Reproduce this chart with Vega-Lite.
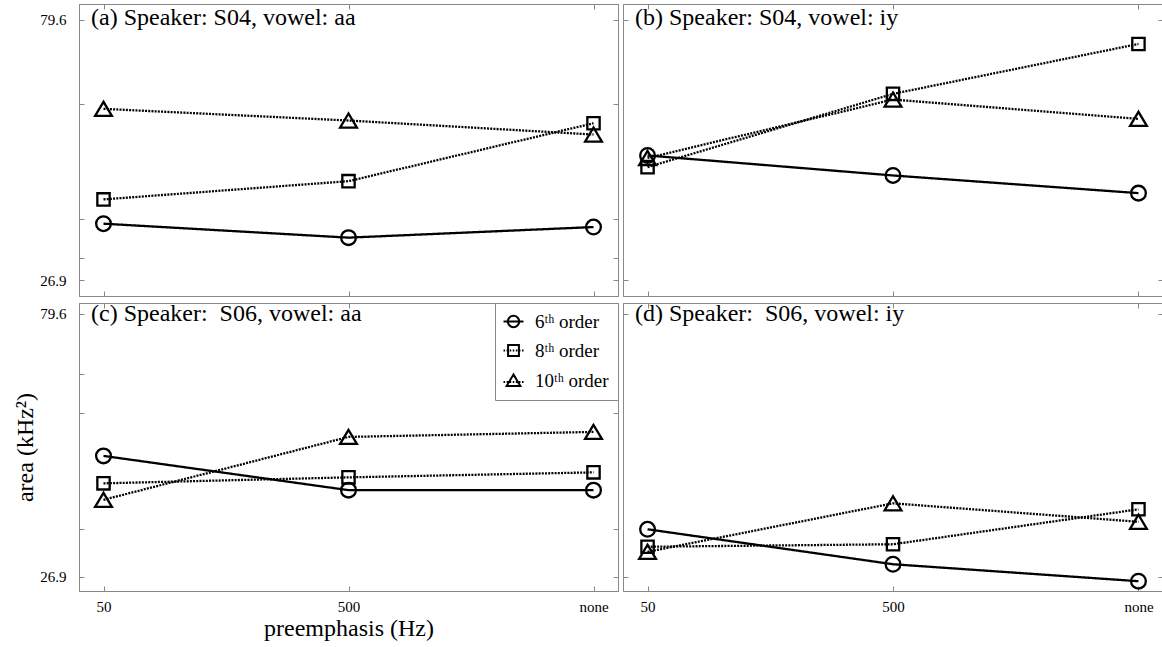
{
  "$schema": "https://vega.github.io/schema/vega-lite/v6.json",
  "padding": {"left": 13, "top": 3, "right": 0, "bottom": 0},
  "background": "white",
  "datasets": {
    "d": [
      {"panel": "a", "pre": "50", "order": "6ᵗʰ order", "area": 38.35},
      {"panel": "a", "pre": "500", "order": "6ᵗʰ order", "area": 35.53},
      {"panel": "a", "pre": "none", "order": "6ᵗʰ order", "area": 37.67},
      {"panel": "a", "pre": "50", "order": "8ᵗʰ order", "area": 43.26},
      {"panel": "a", "pre": "500", "order": "8ᵗʰ order", "area": 46.95},
      {"panel": "a", "pre": "none", "order": "8ᵗʰ order", "area": 58.66},
      {"panel": "a", "pre": "50", "order": "10ᵗʰ order", "area": 61.57},
      {"panel": "a", "pre": "500", "order": "10ᵗʰ order", "area": 59.21},
      {"panel": "a", "pre": "none", "order": "10ᵗʰ order", "area": 56.38},
      {"panel": "b", "pre": "50", "order": "6ᵗʰ order", "area": 52.14},
      {"panel": "b", "pre": "500", "order": "6ᵗʰ order", "area": 48.1},
      {"panel": "b", "pre": "none", "order": "6ᵗʰ order", "area": 44.53},
      {"panel": "b", "pre": "50", "order": "8ᵗʰ order", "area": 49.78},
      {"panel": "b", "pre": "500", "order": "8ᵗʰ order", "area": 64.6},
      {"panel": "b", "pre": "none", "order": "8ᵗʰ order", "area": 74.69},
      {"panel": "b", "pre": "50", "order": "10ᵗʰ order", "area": 51.64},
      {"panel": "b", "pre": "500", "order": "10ᵗʰ order", "area": 63.45},
      {"panel": "b", "pre": "none", "order": "10ᵗʰ order", "area": 59.55},
      {"panel": "c", "pre": "50", "order": "6ᵗʰ order", "area": 51.1},
      {"panel": "c", "pre": "500", "order": "6ᵗʰ order", "area": 44.24},
      {"panel": "c", "pre": "none", "order": "6ᵗʰ order", "area": 44.24},
      {"panel": "c", "pre": "50", "order": "8ᵗʰ order", "area": 45.6},
      {"panel": "c", "pre": "500", "order": "8ᵗʰ order", "area": 46.8},
      {"panel": "c", "pre": "none", "order": "8ᵗʰ order", "area": 47.8},
      {"panel": "c", "pre": "50", "order": "10ᵗʰ order", "area": 42.3},
      {"panel": "c", "pre": "500", "order": "10ᵗʰ order", "area": 54.9},
      {"panel": "c", "pre": "none", "order": "10ᵗʰ order", "area": 55.9},
      {"panel": "d", "pre": "50", "order": "6ᵗʰ order", "area": 36.4},
      {"panel": "d", "pre": "500", "order": "6ᵗʰ order", "area": 29.4},
      {"panel": "d", "pre": "none", "order": "6ᵗʰ order", "area": 26.0},
      {"panel": "d", "pre": "50", "order": "8ᵗʰ order", "area": 32.9},
      {"panel": "d", "pre": "500", "order": "8ᵗʰ order", "area": 33.4},
      {"panel": "d", "pre": "none", "order": "8ᵗʰ order", "area": 40.4},
      {"panel": "d", "pre": "50", "order": "10ᵗʰ order", "area": 31.9},
      {"panel": "d", "pre": "500", "order": "10ᵗʰ order", "area": 41.6},
      {"panel": "d", "pre": "none", "order": "10ᵗʰ order", "area": 37.9}
    ]
  },
  "columns": 2,
  "spacing": {"row": 4, "column": 3},
  "resolve": {"scale": {"shape": "independent", "strokeDash": "independent"}, "legend": {"shape": "independent", "strokeDash": "independent"}},
  "concat": [
    {
      "data": {"name": "d"},
      "transform": [{"filter": "datum.panel == 'a'"}],
      "width": 539, "height": 292,
      "title": {"text": "(a) Speaker: S04, vowel: aa", "offset": -26},
      "layer": [
        {
          "mark": {"type": "line", "color": "black", "strokeWidth": 2.3},
          "encoding": {
            "x": {"field": "pre", "type": "nominal", "scale": {"type": "point", "padding": 0.1, "domain": ["50", "500", "none"]}, "axis": {"orient": "bottom", "labels": false, "title": null}},
            "y": {"field": "area", "type": "quantitative", "scale": {"domain": [23.73, 82.77], "nice": false, "zero": false}, "axis": {"orient": "left", "values": [26.9, 31.4, 39.22, 62.58, 79.6], "labelExpr": "datum.value == 79.6 || datum.value == 26.9 ? format(datum.value, '.1f') : ''", "title": null}},
            "strokeDash": {"field": "order", "type": "nominal", "scale": {"domain": ["10ᵗʰ order", "8ᵗʰ order", "6ᵗʰ order"], "range": [[2, 1.2], [2, 1.2], [1, 0]]}, "legend": null}
          }
        },
        {
          "mark": {"type": "point", "color": "black", "filled": false, "strokeWidth": 2.3, "size": 256, "opacity": 1},
          "encoding": {
            "x": {"field": "pre", "type": "nominal", "axis": {"orient": "top", "labels": false, "title": null}},
            "y": {"field": "area", "type": "quantitative", "axis": {"orient": "right", "values": [26.9, 31.4, 39.22, 62.58, 79.6], "labels": false, "title": null}},
            "shape": {"field": "order", "type": "nominal", "scale": {"domain": ["6ᵗʰ order", "8ᵗʰ order", "10ᵗʰ order"], "range": ["M0.92,0A0.92,0.92,0,1,1,-0.92,0A0.92,0.92,0,1,1,0.92,0Z", "M-0.77,-0.77H0.77V0.77H-0.77Z", "M0,-0.88L-1.05,0.88H1.05Z"]}, "legend": null}
          }
        }
      ]
    },
    {
      "data": {"name": "d"},
      "transform": [{"filter": "datum.panel == 'b'"}],
      "width": 540, "height": 292,
      "title": {"text": "(b) Speaker: S04, vowel: iy", "offset": -26},
      "layer": [
        {
          "mark": {"type": "line", "color": "black", "strokeWidth": 2.3},
          "encoding": {
            "x": {"field": "pre", "type": "nominal", "scale": {"type": "point", "padding": 0.1, "domain": ["50", "500", "none"]}, "axis": {"orient": "bottom", "labels": false, "title": null}},
            "y": {"field": "area", "type": "quantitative", "scale": {"domain": [23.73, 82.77], "nice": false, "zero": false}, "axis": {"orient": "left", "values": [26.9, 79.6], "labels": false, "title": null}},
            "strokeDash": {"field": "order", "type": "nominal", "scale": {"domain": ["10ᵗʰ order", "8ᵗʰ order", "6ᵗʰ order"], "range": [[2, 1.2], [2, 1.2], [1, 0]]}, "legend": null}
          }
        },
        {
          "mark": {"type": "point", "color": "black", "filled": false, "strokeWidth": 2.3, "size": 256, "opacity": 1},
          "encoding": {
            "x": {"field": "pre", "type": "nominal", "axis": {"orient": "top", "labels": false, "title": null}},
            "y": {"field": "area", "type": "quantitative", "axis": {"orient": "right", "values": [26.9, 79.6], "labels": false, "title": null}},
            "shape": {"field": "order", "type": "nominal", "scale": {"domain": ["6ᵗʰ order", "8ᵗʰ order", "10ᵗʰ order"], "range": ["M0.92,0A0.92,0.92,0,1,1,-0.92,0A0.92,0.92,0,1,1,0.92,0Z", "M-0.77,-0.77H0.77V0.77H-0.77Z", "M0,-0.88L-1.05,0.88H1.05Z"]}, "legend": null}
          }
        }
      ]
    },
    {
      "data": {"name": "d"},
      "transform": [{"filter": "datum.panel == 'c'"}],
      "width": 539, "height": 288,
      "title": {"text": "(c) Speaker:\u00a0 S06, vowel: aa", "offset": -23},
      "resolve": {"scale": {"shape": "independent"}, "legend": {"shape": "independent"}},
      "layer": [
        {
          "mark": {"type": "line", "color": "black", "strokeWidth": 2.3},
          "encoding": {
            "x": {"field": "pre", "type": "nominal", "scale": {"type": "point", "padding": 0.1, "domain": ["50", "500", "none"]}, "axis": {"orient": "bottom", "title": "preemphasis (Hz)"}},
            "y": {"field": "area", "type": "quantitative", "scale": {"domain": [24.04, 81.72], "nice": false, "zero": false}, "axis": {"orient": "left", "values": [26.9, 36.4, 59.6, 67.45, 79.6], "labelExpr": "datum.value == 79.6 || datum.value == 26.9 ? format(datum.value, '.1f') : ''", "title": "area (kHz²)"}},
            "strokeDash": {"field": "order", "type": "nominal", "scale": {"domain": ["10ᵗʰ order", "8ᵗʰ order", "6ᵗʰ order"], "range": [[2, 1.2], [2, 1.2], [1, 0]]}, "legend": null}
          }
        },
        {
          "mark": {"type": "point", "color": "black", "filled": false, "strokeWidth": 2.3, "size": 256, "opacity": 1},
          "encoding": {
            "x": {"field": "pre", "type": "nominal", "axis": {"orient": "top", "labels": false, "title": null}},
            "y": {"field": "area", "type": "quantitative", "axis": {"orient": "right", "values": [26.9, 36.4, 59.6, 67.45, 79.6], "labels": false, "title": null}},
            "shape": {"field": "order", "type": "nominal", "scale": {"domain": ["10ᵗʰ order", "8ᵗʰ order", "6ᵗʰ order"], "range": ["M0,-0.88L-1.05,0.88H1.05Z", "M-0.77,-0.77H0.77V0.77H-0.77Z", "M0.92,0A0.92,0.92,0,1,1,-0.92,0A0.92,0.92,0,1,1,0.92,0Z"]}, "legend": null}
          }
        },
        {
          "mark": {"type": "point", "color": "black", "filled": false, "strokeWidth": 2, "opacity": 0},
          "encoding": {
            "x": {"field": "pre", "type": "nominal", "axis": null},
            "y": {"field": "area", "type": "quantitative", "axis": null},
            "shape": {"field": "order", "type": "nominal", "scale": {"domain": ["6ᵗʰ order", "8ᵗʰ order", "10ᵗʰ order"], "range": ["M-1.75,0L1.75,0M1,0A1,1,0,1,1,-1,0A1,1,0,1,1,1,0Z", "M-1.75,0h0.27M-1.21,0h0.27M-0.67,0h0.27M-0.13,0h0.27M0.41,0h0.27M0.95,0h0.27M1.49,0h0.27M-0.95,-0.95H0.95V0.95H-0.95Z", "M-1.75,0.25h0.27M-1.21,0.25h0.27M-0.67,0.25h0.27M-0.13,0.25h0.27M0.41,0.25h0.27M0.95,0.25h0.27M1.49,0.25h0.27M0,-1.05L-1.2,0.95H1.2Z"]},
              "legend": {
                "orient": "top-right", "offset": 0, "title": null,
                "labelFont": "Liberation Serif", "labelFontSize": 19, "labelColor": "black",
                "symbolSize": 130, "symbolStrokeWidth": 2, "symbolStrokeColor": "black", "symbolOpacity": 1,
                "fillColor": "white", "strokeColor": "#888", "padding": 9, "rowPadding": 9,
                "symbolOffset": 0, "labelOffset": 12
              }
            }
          }
        }
      ]
    },
    {
      "data": {"name": "d"},
      "transform": [{"filter": "datum.panel == 'd'"}],
      "width": 540, "height": 288,
      "title": {"text": "(d) Speaker:\u00a0 S06, vowel: iy", "offset": -23},
      "layer": [
        {
          "mark": {"type": "line", "color": "black", "strokeWidth": 2.3},
          "encoding": {
            "x": {"field": "pre", "type": "nominal", "scale": {"type": "point", "padding": 0.1, "domain": ["50", "500", "none"]}, "axis": {"orient": "bottom", "title": null}},
            "y": {"field": "area", "type": "quantitative", "scale": {"domain": [24.04, 81.72], "nice": false, "zero": false}, "axis": {"orient": "left", "values": [26.9, 79.6], "labels": false, "title": null}},
            "strokeDash": {"field": "order", "type": "nominal", "scale": {"domain": ["10ᵗʰ order", "8ᵗʰ order", "6ᵗʰ order"], "range": [[2, 1.2], [2, 1.2], [1, 0]]}, "legend": null}
          }
        },
        {
          "mark": {"type": "point", "color": "black", "filled": false, "strokeWidth": 2.3, "size": 256, "opacity": 1},
          "encoding": {
            "x": {"field": "pre", "type": "nominal", "axis": {"orient": "top", "labels": false, "title": null}},
            "y": {"field": "area", "type": "quantitative", "axis": {"orient": "right", "values": [26.9, 79.6], "labels": false, "title": null}},
            "shape": {"field": "order", "type": "nominal", "scale": {"domain": ["6ᵗʰ order", "8ᵗʰ order", "10ᵗʰ order"], "range": ["M0.92,0A0.92,0.92,0,1,1,-0.92,0A0.92,0.92,0,1,1,0.92,0Z", "M-0.77,-0.77H0.77V0.77H-0.77Z", "M0,-0.88L-1.05,0.88H1.05Z"]}, "legend": null}
          }
        }
      ]
    }
  ],
  "config": {
    "font": "Liberation Serif",
    "view": {"stroke": "#888", "strokeWidth": 1},
    "legend": {"labelFont": "Liberation Serif", "labelColor": "black"},
    "axis": {
      "grid": false, "domainColor": "#888", "tickColor": "#888", "tickSize": -5,
      "labelFont": "Liberation Serif", "labelFontSize": 15, "labelColor": "black", "labelAngle": 0,
      "titleFont": "Liberation Serif", "titleFontSize": 24, "titleFontWeight": "normal", "titleColor": "black", "titlePadding": 2
    },
    "axisX": {"labelPadding": 13},
    "axisY": {"labelPadding": 18},
    "title": {"font": "Liberation Serif", "fontSize": 24, "fontWeight": "normal", "color": "black", "anchor": "start", "frame": "group", "baseline": "alphabetic", "dx": 12}
  }
}
